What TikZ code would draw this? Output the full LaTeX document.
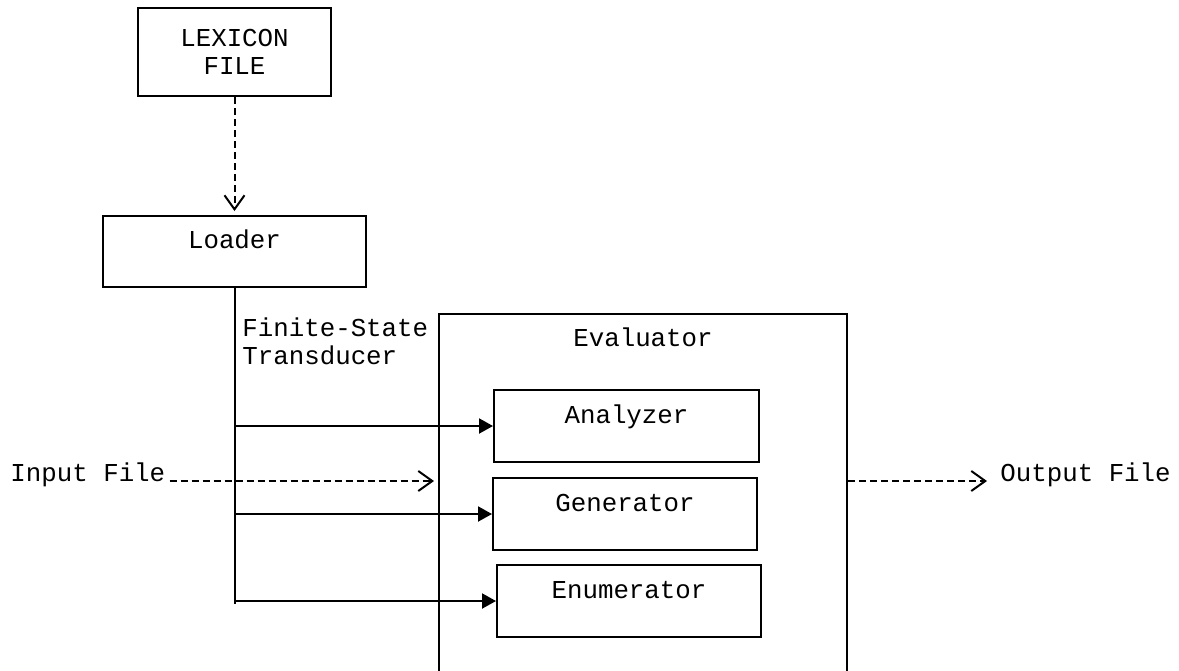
\documentclass[tikz,border=0pt]{standalone}
\usepackage{fontspec}
\setmonofont{Liberation Mono}
\usepackage{tikz}
\usetikzlibrary{arrows.meta}
\tikzstyle{every node}=[font=\ttfamily\fontsize{12.9pt}{14pt}\selectfont]
\tikzstyle{blk}=[draw,line width=1pt,rectangle,text height=8pt,text depth=11pt]
\tikzstyle{dasharrow}=[line width=1pt,dash pattern=on 3.5pt off 2pt,-{Straight Barb[length=7pt,width=10pt]}]
\tikzstyle{solidarrow}=[line width=1pt,-{Triangle[length=7pt,width=7.5pt]}]
\newcommand{\feed}[1]{
  \draw[solidarrow] (load.south |- #1.west) -- (#1.west);
}

\begin{document}
\begin{tikzpicture}[x=0.5pt,y=-0.5pt]
\useasboundingbox (0,0) rectangle (1179,670);
\clip (0,0) rectangle (1179,670);

  \node[draw,line width=1pt,minimum width=96.5pt,minimum height=44pt,align=center] (lex) at (234.5,52) {LEXICON\\FILE};
  \node[blk,minimum width=131.5pt,minimum height=35.5pt] (load) at (234.5,251.5) {Loader};

  \node[draw,line width=1pt,minimum width=204pt,minimum height=203pt,
        label={[anchor=base,yshift=-16.5pt]north:Evaluator}] (eval) at (643,517) {};
  \node[blk,minimum width=132.5pt,minimum height=36pt] (ana) at (626.5,426) {Analyzer};
  \node[blk,minimum width=132pt,minimum height=36pt] (gen) at (625,514) {Generator};
  \node[blk,minimum width=132pt,minimum height=36pt] (enu) at (629,601) {Enumerator};

  \node[anchor=north west,align=left,inner sep=0pt] (fst) at (242,317) {Finite-State\\Transducer};
  \node[anchor=base west,inner sep=2pt] (inp) at (6,481) {Input File};
  \node[anchor=base west,inner sep=2pt] (outp) at (996,481) {Output File};

  % loading
  \draw[dasharrow,shorten >=2pt] (lex.south) -- (load.north);

  % transducer trunk
  \coordinate (trunkend) at (233,604);
  \draw[line width=1pt] (load.south) -- (load.south |- trunkend);
\feed{ana}
\feed{gen}
\feed{enu}

  % files in and out
  \draw[dasharrow,shorten >=2pt] (inp.base east) -- (eval.west |- inp.base);
  \draw[dasharrow,shorten >=4.5pt] (eval.east |- outp.base) -- (outp.base west);

\end{tikzpicture}
\end{document}
